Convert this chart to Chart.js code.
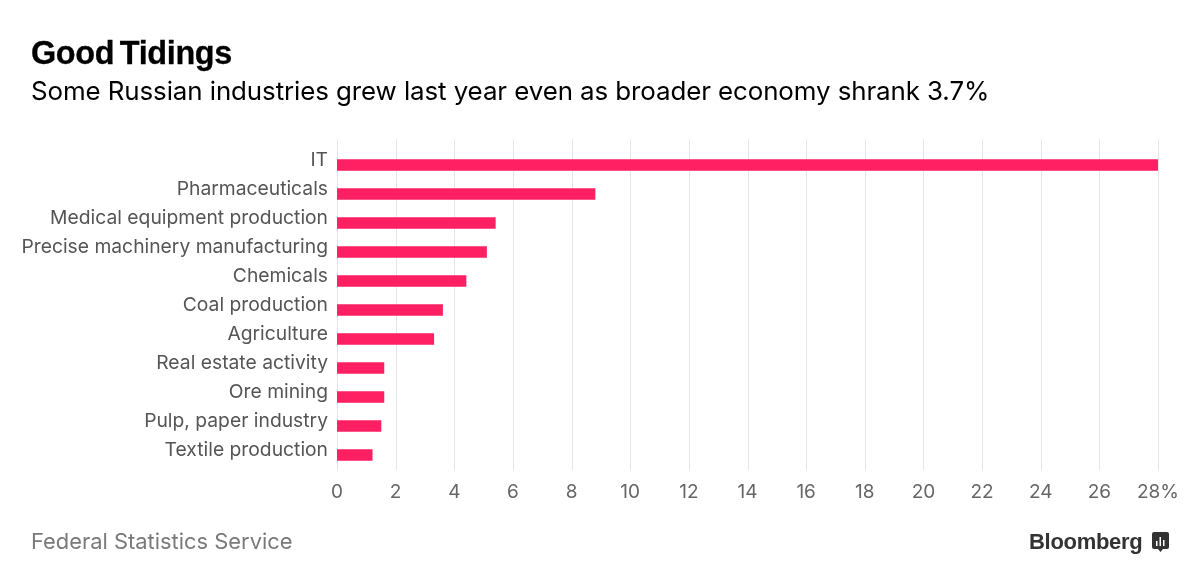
<!DOCTYPE html>
<html><head><meta charset="utf-8">
<script src="https://cdn.jsdelivr.net/npm/chart.js@4"></script>
<style>
html,body{margin:0;padding:0;background:#fff;width:1200px;height:586px;overflow:hidden;font-family:"Liberation Sans",sans-serif}
#wrap{position:relative;width:1200px;height:586px}
canvas{position:absolute;left:0;top:0}
.t{position:absolute;white-space:nowrap;line-height:1}
#title{left:31px;top:37px;font-size:32.4px;font-weight:700;color:#000;letter-spacing:-.35px;word-spacing:-3px;-webkit-text-stroke:.3px #000}
#sub{left:31px;top:78px;font-size:25.9px;color:#000;font-family:Inter,sans-serif;font-weight:400;letter-spacing:-.09px}
#src{left:31px;top:531px;font-size:21.9px;color:#7a7a7a;font-family:Inter,sans-serif}
#brand{left:1029px;top:531px;font-size:22px;font-weight:700;color:#333;letter-spacing:-.3px}
#logo{position:absolute;left:1152px;top:532px}
</style></head><body>
<div id="wrap">
<canvas id="c" width="1200" height="586"></canvas>
<div class="t" id="title">Good Tidings</div>
<div class="t" id="sub">Some Russian industries grew last year even as broader economy shrank 3.7%</div>
<div class="t" id="src">Federal Statistics Service</div>
<div class="t" id="brand">Bloomberg</div>
<svg id="logo" width="17" height="21" viewBox="0 0 17 21"><path d="M2 0h13a2 2 0 0 1 2 2v13a2 2 0 0 1-2 2h-4l-2.500 3-2.500-3H2a2 2 0 0 1-2-2V2a2 2 0 0 1 2-2z" fill="#333"/><path d="M4 9h1.500v5H4zM7.500 5H9v9H7.500zM11 8h1.500v6H11z" fill="#fff"/></svg>
</div>
<script>
const categories = ["IT","Pharmaceuticals","Medical equipment production","Precise machinery manufacturing","Chemicals","Coal production","Agriculture","Real estate activity","Ore mining","Pulp, paper industry","Textile production"];
const growth = [28,8.8,5.4,5.1,4.4,3.6,3.3,1.6,1.6,1.5,1.2];
const xMax = 28, xStep = 2;
const gridColor = "#e4e4ea";
const extendGrid = {
  id:"extendGrid",
  beforeDatasetsDraw(chart){
    const {ctx,scales:{x}} = chart;
    ctx.save();
    ctx.strokeStyle = gridColor; ctx.lineWidth = 1;
    for(const t of x.ticks){
      const px = Math.round(x.getPixelForValue(t.value))+.5;
      ctx.beginPath(); ctx.moveTo(px,139); ctx.lineTo(px,470); ctx.stroke();
    }
    ctx.restore();
  }
};
new Chart(document.getElementById("c"),{
  type:"bar",
  data:{labels:categories,datasets:[{data:growth,backgroundColor:"#ff1f63",barThickness:11,borderWidth:0}]},
  plugins:[extendGrid],
  options:{
    indexAxis:"y",responsive:false,animation:false,devicePixelRatio:1,
    layout:{padding:{top:150.5,right:42,left:0,bottom:0}},
    plugins:{legend:{display:false},tooltip:{enabled:false},title:{display:false}},
    scales:{
      x:{min:0,max:xMax,position:"bottom",
        border:{display:false},
        grid:{display:false,drawTicks:false},
        afterFit(s){s.height=116.5;},
        ticks:{stepSize:xStep,autoSkip:false,maxRotation:0,padding:11,color:"#666",
          font:{family:"Inter, sans-serif",size:19},
          callback:v=>v===xMax?v+"%":v}
      },
      y:{position:"left",offset:true,
        border:{display:false},
        grid:{display:false,drawTicks:false},
        afterFit(s){s.width=337;},
        ticks:{autoSkip:false,padding:9,labelOffset:-5,color:"#555",
          font:{family:"Inter, sans-serif",size:19.3}}
      }
    }
  }
});
</script>
</body></html>
